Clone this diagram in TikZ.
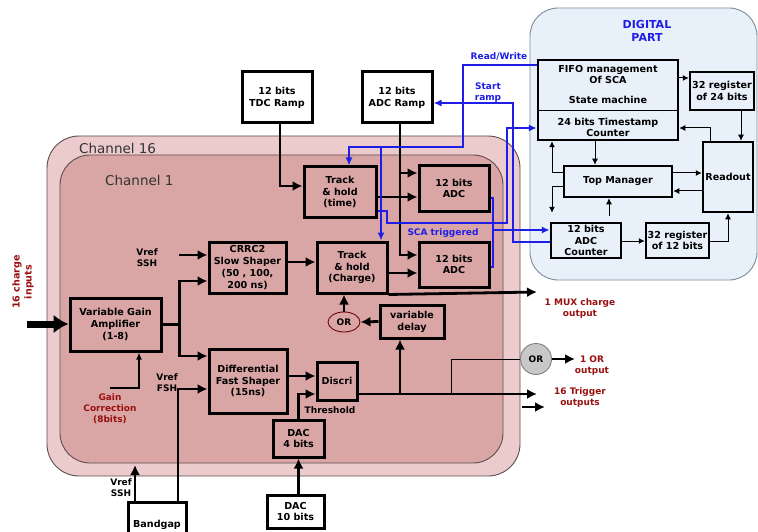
\documentclass[tikz,border=0pt]{standalone}
\usepackage{fontspec}
\setmainfont{DejaVu Sans}
\usetikzlibrary{arrows.meta,shapes.geometric,calc}
\definecolor{outerpink}{HTML}{EBCBCB}
\definecolor{innerpink}{HTML}{D9A5A5}
\definecolor{panelline}{HTML}{5E4E4E}
\definecolor{digfill}{HTML}{E8F0FA}
\definecolor{digline}{HTML}{7C8A9A}
\definecolor{bluel}{HTML}{1E1EE6}
\definecolor{dred}{HTML}{9A1010}
\definecolor{orgray}{HTML}{C8C8C8}
\newcommand{\bxf}{\bfseries\fontsize{9.6}{11.8}\selectfont}
\newcommand{\lbf}{\bfseries\fontsize{9}{11}\selectfont}
\newcommand{\mkbox}[7][]{%
  \node[#1, minimum width={(#4)-(#2)}, minimum height={(#5)-(#3)}] (#6)
    at ({((#2)+(#4))/2},{((#3)+(#5))/2}) {#7};}
\begin{document}
\begin{tikzpicture}[x=1pt,y=-1pt,
  box/.style={draw, line width=3pt, align=center, inner sep=1pt, font=\bxf},
  wbox/.style={box, fill=white},
  dbox/.style={draw, line width=2.5pt, fill=digfill, align=center, inner sep=1pt, font=\bxf},
  dtxt/.style={align=center, inner sep=0pt, font=\bxf},
  lbl/.style={align=center, inner sep=0pt, font=\lbf},
  rlbl/.style={lbl, text=dred},
  blbl/.style={lbl, text=bluel},
  arr/.style={line width=2.8pt, -{Latex[length=10pt,width=10pt]}},
  tarr/.style={line width=1pt, -{Latex[length=6pt,width=6pt]}},
  tln/.style={line width=1pt},
  barr/.style={draw=bluel, line width=1.8pt, -{Latex[length=8pt,width=7pt]}},
  bln/.style={draw=bluel, line width=1.8pt},
  bigarr/.style={line width=7pt, -{Latex[length=15pt,width=19pt]}}
]
\useasboundingbox (0,0) rectangle (758,532);
\fill[white] (0,0) rectangle (758,532);

% ---------- panels ----------
\draw[fill=outerpink, draw=panelline, line width=0.9pt, rounded corners=32pt] (47,136) rectangle (520,476);
\draw[fill=innerpink, draw=panelline, line width=0.9pt, rounded corners=30pt] (60,155) rectangle (503,463);
\draw[fill=digfill, draw=digline, line width=0.9pt, rounded corners=28pt] (530,8) rectangle (757,280);

\node[anchor=west, inner sep=0pt, text=black!80, font=\fontsize{13.5}{15}\selectfont] (ch16) at (79,148) {Channel 16};
\node[anchor=west, inner sep=0pt, text=black!80, font=\fontsize{13.5}{15}\selectfont] (ch1) at (105,180) {Channel 1};
\node[lbl, text=bluel, font=\bfseries\fontsize{11}{12.5}\selectfont] (dig) at (647,31) {DIGITAL\\PART};

% ---------- channel boxes ----------
\mkbox[wbox]{242}{72}{312}{123}{tdc}{12 bits\\TDC Ramp}
\mkbox[wbox]{362}{72}{432}{123}{adcr}{12 bits\\ADC Ramp}
\mkbox[box]{70}{298}{161}{351}{vga}{Variable Gain\\Amplifier\\(1-8)}
\mkbox[box]{209}{242}{286}{293}{crrc}{CRRC2\\Slow Shaper\\(50 , 100,\\200 ns)}
\mkbox[box]{209}{349}{287}{413}{dfs}{Differential\\Fast Shaper\\(15ns)}
\mkbox[box]{304}{167}{376}{217}{tht}{Track\\\& hold\\(time)}
\mkbox[box]{317}{242}{387}{293}{thc}{Track\\\& hold\\(Charge)}
\mkbox[box]{419}{166}{489}{211}{adc1}{12 bits\\ADC}
\mkbox[box]{419}{242}{489}{287}{adc2}{12 bits\\ADC}
\mkbox[box]{317}{362}{357}{400}{disc}{Discri}
\mkbox[box]{380}{305}{444}{338}{vdel}{variable\\delay}
\mkbox[box]{273}{420}{324}{457}{dac4}{DAC\\4 bits}
\mkbox[wbox]{267}{495}{324}{528}{dac10}{DAC\\10 bits}
\mkbox[wbox]{128}{502}{186}{548}{bg}{Bandgap}
\node[ellipse, draw=dred!70!black, line width=0.9pt, minimum width=32pt, minimum height=20pt, inner sep=0pt, font=\lbf] (or1) at (344,322) {OR};
\node[circle, draw=black!50, fill=orgray, line width=0.9pt, minimum size=31pt, inner sep=0pt, font=\lbf] (or2) at (536,359) {OR};

% ---------- digital boxes ----------
\mkbox[dbox]{538}{60}{678}{140}{fifo}{}
\draw[line width=0.8pt] (fifo.west |- 0,110) -- (fifo.east |- 0,110);
\node[dtxt] (f1) at (608,74.5) {FIFO management\\Of SCA};
\node[dtxt] (f2) at (608,100) {State machine};
\node[dtxt] (f3) at (608,127.5) {24 bits Timestamp\\Counter};
\mkbox[dbox]{690}{72}{754}{110}{r24}{32 register\\of 24 bits}
\mkbox[dbox]{703}{142}{753}{212}{rd}{Readout}
\mkbox[dbox]{564}{166}{672}{197}{tm}{Top Manager}
\mkbox[dbox]{551}{223}{621}{258}{cnt}{12 bits\\ADC\\Counter}
\mkbox[dbox]{646}{223}{709}{258}{r12}{32 register\\of 12 bits}

% ---------- labels ----------
\node[rlbl, rotate=90, font=\bfseries\fontsize{9.6}{12}\selectfont] (inlbl) at (23,282) {16 charge\\inputs};
\node[lbl] (vssh1) at (147,258) {Vref\\SSH};
\node[lbl] (vfsh) at (167,383) {Vref\\FSH};
\node[lbl] (vssh2) at (121,488) {Vref\\SSH};
\node[rlbl] (gcl) at (110,409) {Gain\\Correction\\(8bits)};
\node[lbl] (thr) at (330,410) {Threshold};
\node[rlbl] (muxl) at (580,309) {1 MUX charge\\output};
\node[rlbl] (orl) at (592,366) {1 OR\\output};
\node[rlbl] (trl) at (580,398) {16 Trigger\\outputs};
\node[blbl] (rwl) at (499,56) {Read/Write};
\node[blbl] (srl) at (488,93) {Start\\ramp};
\node[blbl] (scal) at (443,233) {SCA triggered};

% ---------- coordinates ----------
\coordinate (inp) at (27,324);
\coordinate (vs1) at (179,255);
\coordinate (muxo) at (537,292);
\coordinate (trig) at (537,394);
\coordinate (tb) at (451,394);
\coordinate (oro) at (575,359);
\coordinate (t1) at (522,407);
\coordinate (t2) at (545,407);
\coordinate (vsb) at (135,465);
\coordinate (gc) at (110,388);

% ---------- black connectors ----------
\draw[bigarr] (inp) -- (vga.west |- inp);
\draw[arr] (vga.east) -- ++(17,0) |- (crrc.west |- 0,281);
\draw[arr] ($(vga.east)+(17,0)$) |- (dfs.west |- 0,356);
\draw[arr] (vs1) -- (crrc.west |- vs1);
\draw[arr] (crrc.east |- 0,262) -- (thc.west |- 0,262);
\draw[arr] ([xshift=3pt]tdc.south) |- (tht.west |- 0,186);
\draw[arr] ([xshift=3pt]adcr.south) |- (adc2.west |- 0,255);
\draw[arr] ([xshift=3pt]adcr.south |- 0,173) -- (adc1.west |- 0,173);
\draw[arr] (tht.east |- 0,197) -- (adc1.west |- 0,197);
\draw[arr] (thc.east |- 0,273) -- (adc2.west |- 0,273);
\draw[arr] (thc.south east) -- (muxo);
\draw[arr] (or1.north) -- (or1.north |- thc.south);
\draw[arr] (vdel.west) -- (or1.east);
\draw[arr] (dfs.east |- 0,376) -- (disc.west |- 0,376);
\draw[arr] (dac4.north) |- (disc.west |- 0,394);
\draw[arr] (dac4.south |- dac10.north) -- (dac4.south);
\draw[arr] (disc.east |- trig) -- (trig);
\draw[arr] ([xshift=-12pt]vdel.south |- trig) -- ([xshift=-12pt]vdel.south);
\draw[tln] (tb) |- (or2.west);
\draw[arr] (or2.east) -- (oro);
\draw[arr] (t1) -- (t2);
\draw[arr] (bg.north -| vsb) -- (vsb);
\draw[arr] (bg.north -| 178,0) |- (dfs.west |- 0,389);
\draw[line width=1.6pt, -{Latex[length=7pt,width=6pt]}] (gc) -| (vga.south -| 139,0);

% ---------- blue connectors ----------
\draw[barr] (fifo.west |- 0,65) -| (463,147) -| ([xshift=9pt]tht.north);
\draw[barr] (381,147) -- (thc.north -| 381,0);
\draw[barr] (cnt.west |- 0,242) -| (513,103) -- (adcr.east |- 0,103);
\draw[barr] (tht.east |- 0,211) -| (387,223) -| (507,128) -- (fifo.west |- 0,128);
\draw[bln] (adc1.east |- 0,198) -| (493,267) -- (adc2.east |- 0,267);
\draw[barr] (493,230) -- (cnt.west |- 0,230);

% ---------- digital connectors ----------
\draw[tarr] (fifo.east |- 0,78) -- (r24.west |- 0,78);
\draw[tarr] ([xshift=13pt]rd.north |- r24.south) -- ([xshift=13pt]rd.north);
\draw[tarr] ([xshift=-18pt]rd.north) |- (fifo.east |- 0,128);
\draw[tarr] (fifo.south -| 595,0) -- (tm.north -| 595,0);
\draw[tarr] (tm.west |- 0,173) -| (fifo.south -| 552,0);
\draw[tarr, shorten >=9pt] (tm.west |- 0,187) -| (cnt.north -| 552,0);
\draw[tarr, shorten <=6pt] (cnt.north -| 609,0) -- (tm.south -| 609,0);
\draw[tarr] (tm.east |- 0,173) -- (rd.west |- 0,173);
\draw[tarr] (rd.west |- 0,191) -- (tm.east |- 0,191);
\draw[tarr] (cnt.east |- 0,241) -- (r12.west |- 0,241);
\draw[tarr] (r12.east |- 0,241) -| (rd.south);
\end{tikzpicture}
\end{document}
